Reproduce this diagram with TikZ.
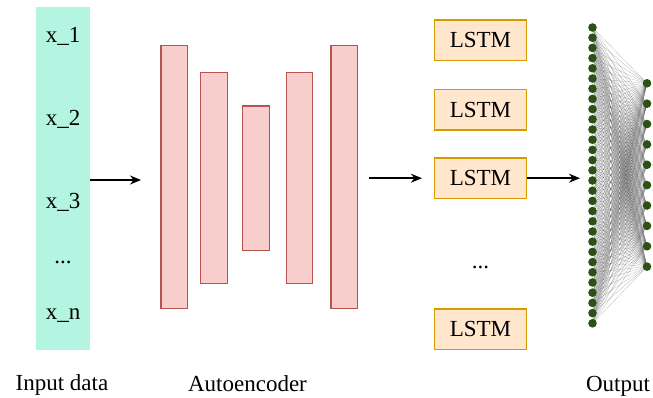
\documentclass[tikz,border=0pt]{standalone}
\usepackage{fontspec}
\setmainfont{Liberation Serif}
\newfontfamily\tnr{Liberation Serif}
\usetikzlibrary{arrows.meta}
\definecolor{inputfill}{HTML}{B3F5E0}
\definecolor{aefill}{HTML}{F8CECC}
\definecolor{aedraw}{HTML}{B85450}
\definecolor{lstmfill}{HTML}{FFE6CC}
\definecolor{lstmdraw}{HTML}{D79B00}
\definecolor{dotgreen}{HTML}{2D5016}
\begin{document}
\begin{tikzpicture}[x=1pt,y=-1pt, font=\tnr\fontsize{23}{27}\selectfont,
 inbox/.style={fill=inputfill, draw=none, minimum width=54pt, minimum height=343pt, inner sep=0pt},
 bar/.style={fill=aefill, draw=aedraw, line width=1.3pt, minimum width=26.6pt, inner sep=0pt},
 lstm/.style={fill=lstmfill, draw=lstmdraw, line width=1.2pt, minimum width=92pt, minimum height=40.5pt, inner sep=0pt},
 lbl/.style={anchor=base, inner sep=0pt},
 arr/.style={-{Stealth[length=11pt,width=9pt]}, line width=1.4pt},
 neuron/.style={circle, fill=dotgreen, minimum size=8.6pt, inner sep=0pt},
 edge/.style={draw=gray!60!black, line width=0.3pt, opacity=0.4}]
\useasboundingbox (0,0) rectangle (653,398);

% input
\node[inbox] (in) at (63,178.5) {};
\node[lbl] (x1) at (63,42.7) {x\_1};
\node[lbl] (x2) at (63,125.7) {x\_2};
\node[lbl] (x3) at (63,208.5) {x\_3};
\node[lbl] (xd) at (63,263) {...};
\node[lbl] (xn) at (63,319) {x\_n};
\node[lbl] (inlbl) at (62,390) {Input data};

% autoencoder
\node[bar, minimum height=263pt] (b1) at (174.2,177.3) {};
\node[bar, minimum height=211pt] (b2) at (214,177.8) {};
\node[bar, minimum height=144.7pt] (b3) at (256,178.3) {};
\node[bar, minimum height=211pt] (b4) at (299.5,177.8) {};
\node[bar, minimum height=263pt] (b5) at (344.3,177.3) {};
\node[lbl] (aelbl) at (247.5,391) {Autoencoder};

% LSTM
\node[lstm] (l1) at (480.5,40.3) {LSTM};
\node[lstm] (l2) at (480.5,109.7) {LSTM};
\node[lstm] (l3) at (480.5,178.2) {LSTM};
\node[lbl] (ld) at (480.5,268.5) {...};
\node[lstm] (l5) at (480.5,329.2) {LSTM};

% output net
\foreach \i in {0,...,29} { \coordinate (L\i) at (592.5, 27.5+10.2*\i); }
\foreach \j in {0,...,9} { \coordinate (R\j) at (647, 83.3+20.37*\j); }
\foreach \i in {0,...,29} { \foreach \j in {0,...,9} { \draw[edge] (L\i) -- (R\j); } }
\foreach \i in {0,...,29} { \node[neuron] (NL\i) at (L\i) {}; }
\foreach \j in {0,...,9} { \node[neuron] (NR\j) at (R\j) {}; }
\node[lbl] (outlbl) at (618,391) {Output};

% arrows
\coordinate (a1e) at (141,180);
\draw[arr] (in.east |- a1e) -- (a1e);
\draw[arr, shorten <=11pt, shorten >=12pt] (b5.east |- l3) -- (l3.west);
\coordinate (a3e) at (580,178.2);
\draw[arr] (l3.east) -- (a3e);
\end{tikzpicture}
\end{document}
